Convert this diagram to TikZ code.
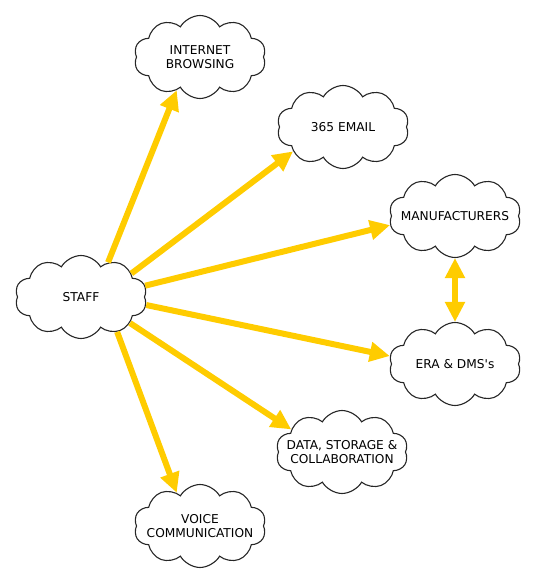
\documentclass[tikz,border=0pt]{standalone}
\usepackage{fontspec}
\setmainfont{DejaVu Sans}
\usepackage{tikz}
\usetikzlibrary{arrows.meta,shapes.symbols}

\begin{document}
\begin{tikzpicture}[
  x=1pt, y=-1pt,
  cld/.style={cloud, cloud puffs=10, cloud puff arc=120, aspect=1.6,
    draw=black!85, line width=1.1pt, fill=white, align=center,
    minimum width=132pt, minimum height=83pt, inner xsep=-18pt, inner ysep=0pt,
    font=\fontsize{12.2}{14.5}\selectfont},
  link/.style={draw={rgb,255:red,255;green,204;blue,0}, line width=6pt,
    -{Triangle[length=20pt,width=19pt]}},
  both/.style={link, {Triangle[length=20pt,width=19pt]}-{Triangle[length=20pt,width=19pt]}}
]
\useasboundingbox (0,0) rectangle (538,588);
\node[cld] (staff) at (81,297) {STAFF};
\node[cld] (inet) at (200,57) {INTERNET\\BROWSING};
\node[cld] (mail) at (343,127) {365 EMAIL};
\node[cld] (manuf) at (455,216) {MANUFACTURERS};
\node[cld] (era) at (455,364) {ERA \& DMS\textquotesingle s};
\node[cld] (data) at (342,452) {DATA, STORAGE \&\\COLLABORATION};
\node[cld] (voice) at (200,526) {VOICE\\COMMUNICATION};
\draw[link] (staff.52) -- (inet.235);
\draw[link] (staff.25) -- (mail.206);
\draw[link] (staff.10) -- (manuf.188);
\draw[link] (staff.353) -- (era.173);
\draw[link] (staff.332) -- (data.156);
\draw[link] (staff.316) -- (voice.125);
\draw[both] (manuf.south) -- (era.north);
\end{tikzpicture}
\end{document}
